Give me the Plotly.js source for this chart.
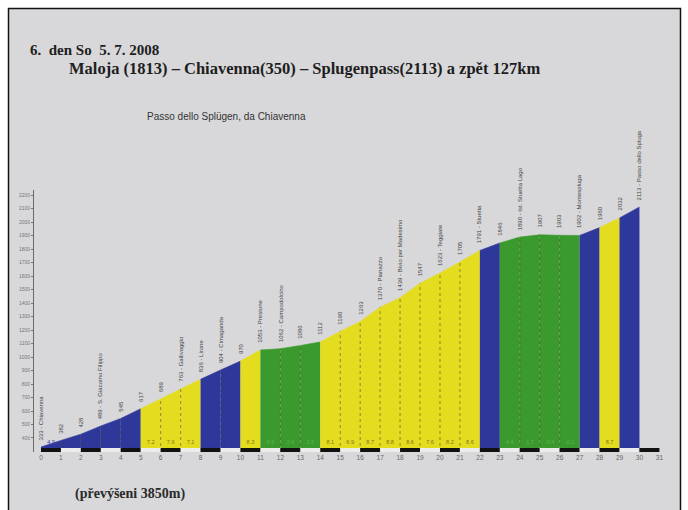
<!DOCTYPE html>
<html>
<head>
<meta charset="utf-8">
<script src="https://cdn.plot.ly/plotly-3.0.1.min.js"></script>
<style>html,body{margin:0;padding:0;background:#fff;}#chart{width:688px;height:510px;}</style>
</head>
<body>
<div id="chart"></div>
<script>
// ---- data ----
const km = [0,1,2,3,4,5,6,7,8,9,10,11,12,13,14,15,16,17,18,19,20,21,22,23,24,25,26,27,28,29,30];
const elevation = [333,382,428,489,545,617,689,763,836,904,970,1053,1062,1086,1112,1190,1263,1370,1439,1547,1623,1705,1791,1846,1890,1907,1903,1902,1960,2032,2113];
const placeNames = {0:'Chiavenna',3:'S. Giacomo Filippo',7:'Gallivaggio',8:'Lirone',9:'Cimaganda',11:'Prestone',12:'Campodolcino',17:'Pianazzo',18:'Bivio per Madesimo',20:'Teggiate',22:'Stuetta',24:'Ist. Stuetta Lago',27:'Montespluga',30:'Passo dello Spluga'};
const gradients = [4.9,4.6,6.1,5.6,7.2,7.2,7.6,7.1,6.8,6.6,8.3,0.9,2.4,2.6,8.1,6.9,8.7,8.8,8.6,7.6,8.2,8.6,5.5,4.4,1.7,-0.4,-0.1,5.8,8.7,8.1];
const segmentClass = ['b','b','b','b','b','y','y','y','b','b','y','g','g','g','y','y','y','y','y','y','y','y','b','g','g','g','g','b','y','b'];
const xTicks = [0,1,2,3,4,5,6,7,8,9,10,11,12,13,14,15,16,17,18,19,20,21,22,23,24,25,26,27,28,29,30,31];
const yTicks = [400,500,600,700,800,900,1000,1100,1200,1300,1400,1500,1600,1700,1800,1900,2000,2100,2200];
const titleLine1 = '6.\u00a0 den So\u00a0 5. 7. 2008';
const titleLine2 = 'Maloja (1813) – Chiavenna(350) – Splugenpass(2113) a zpět 127km';
const subTitle = 'Passo dello Splügen, da Chiavenna';
const footer = '(převýšeni 3850m)';

// ---- styles ----
const fillColors = {b:'#2e379a', y:'#e4dc1f', g:'#3a9a2e'};
const gradColors = {b:'#343ea4', y:'#7a7620', g:'#63b350'};
const Y0 = 296, Y1 = 2239;
const stripTop = 325.6, gradTextY = 362;

const traces = [];
for (let i = 0; i < km.length - 1; i++) {
  const c = fillColors[segmentClass[i]];
  traces.push({
    type:'scatter', mode:'lines',
    x:[km[i], km[i+1]], y:[elevation[i], elevation[i+1]],
    fill:'tozeroy', fillcolor:c,
    line:{color:c, width:0.6},
    hoverinfo:'skip', showlegend:false
  });
}
// dotted km separators inside same-colour blocks
const dx = [], dy = [];
for (let i = 1; i < km.length - 1; i++) {
  if (segmentClass[i-1] === segmentClass[i]) {
    dx.push(km[i], km[i], null);
    dy.push(Y0, elevation[i], null);
  }
}
traces.push({type:'scatter', mode:'lines', x:dx, y:dy,
  line:{color:'rgba(70,70,20,0.55)', width:1, dash:'dot'}, hoverinfo:'skip', showlegend:false});
// gradient labels
const gx = [], gy = [], gt = [], gc = [];
for (let i = 0; i < gradients.length; i++) {
  gx.push((km[i] + km[i+1]) / 2); gy.push(gradTextY);
  gt.push(gradients[i].toFixed(1)); gc.push(gradColors[segmentClass[i]]);
}
traces.push({type:'scatter', mode:'text', x:gx, y:gy, text:gt,
  textfont:{family:'Liberation Sans, Arial', size:5.5, color:gc},
  hoverinfo:'skip', showlegend:false, cliponaxis:false});

// ---- layout helpers ----
const L = 34, R = 665, T = 190, B = 452;
const px = p => (p - L) / (R - L);
const py = p => (B - p) / (B - T);

const shapes = [{
  type:'rect', xref:'paper', yref:'paper', layer:'below',
  x0:px(8.5), x1:px(680.5), y0:py(530), y1:py(8.5),
  fillcolor:'#d8d8da', line:{color:'#111', width:1.5}
}];
for (let i = 0; i < xTicks.length - 1; i++) {
  shapes.push({type:'rect', xref:'x', yref:'y', layer:'above',
    x0:xTicks[i], x1:xTicks[i+1], y0:Y0, y1:stripTop,
    fillcolor: i % 2 === 0 ? '#111' : '#ececec', line:{width:0}});
}

const annotations = [];
for (let i = 0; i < km.length; i++) {
  const t = placeNames[i] ? elevation[i] + ' - ' + placeNames[i] : String(elevation[i]);
  annotations.push({x:km[i], y:elevation[i], xref:'x', yref:'y', text:t, showarrow:false,
    textangle:-90, xanchor:'center', yanchor:'bottom', yshift:5,
    font:{family:'Liberation Sans, Arial', size:6, color:'#444'}});
}
annotations.push(
  {xref:'paper', yref:'paper', x:px(28), y:py(50), xanchor:'left', yanchor:'middle', showarrow:false,
   text:'<b>' + titleLine1 + '</b>', font:{family:'Liberation Serif, Times New Roman', size:15, color:'#1e1e1e'}},
  {xref:'paper', yref:'paper', x:px(67), y:py(69), xanchor:'left', yanchor:'middle', showarrow:false,
   text:'<b>' + titleLine2 + '</b>', font:{family:'Liberation Serif, Times New Roman', size:16.5, color:'#1e1e1e'}},
  {xref:'paper', yref:'paper', x:px(145), y:py(116), xanchor:'left', yanchor:'middle', showarrow:false,
   text:subTitle, font:{family:'Liberation Sans, Arial', size:10, color:'#333'}},
  {xref:'paper', yref:'paper', x:px(73), y:py(494), xanchor:'left', yanchor:'middle', showarrow:false,
   text:'<b>' + footer + '</b>', font:{family:'Liberation Serif, Times New Roman', size:14, color:'#2a2a2a'}}
);

const layout = {
  width:688, height:510,
  margin:{l:L, r:688-R, t:T, b:510-B, pad:0},
  paper_bgcolor:'#ffffff', plot_bgcolor:'rgba(0,0,0,0)',
  showlegend:false,
  xaxis:{range:[-0.35, 31.28], tickvals:xTicks, ticktext:xTicks.map(String),
    tickfont:{family:'Liberation Sans, Arial', size:6.5, color:'#666'},
    showgrid:false, zeroline:false, showline:false, ticks:'', fixedrange:true},
  yaxis:{range:[Y0, Y1], tickvals:yTicks, ticktext:yTicks.map(String),
    tickfont:{family:'Liberation Sans, Arial', size:5, color:'#777'},
    showgrid:false, zeroline:false, showline:true, linecolor:'#6a6a6a', linewidth:1,
    ticks:'outside', ticklen:2, tickcolor:'#777', fixedrange:true},
  shapes:shapes, annotations:annotations
};
Plotly.newPlot('chart', traces, layout, {displayModeBar:false, staticPlot:true});
</script>
</body>
</html>
